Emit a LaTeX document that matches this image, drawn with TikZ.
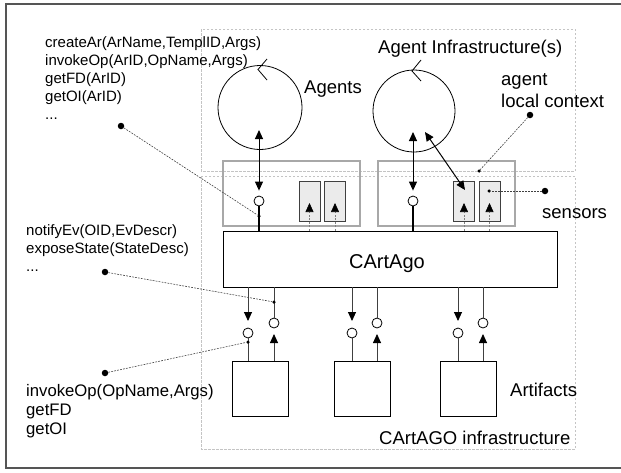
\documentclass[tikz,border=0pt]{standalone}
\usepackage{fontspec}
\setmainfont{Liberation Sans}
\usetikzlibrary{arrows.meta}
\definecolor{dgrey}{HTML}{404040}
\definecolor{lgrey}{HTML}{C4C4C4}
\definecolor{ctxgrey}{HTML}{A8A8A8}
\definecolor{sensfill}{HTML}{EBEBEB}
\definecolor{framegrey}{HTML}{555555}
\tikzset{
  tri/.tip={Triangle[width=8pt,length=9pt,color=black]},
  port/.style={circle, draw=black, fill=white, minimum size=10pt, inner sep=0pt, line width=0.8pt},
  ctxbox/.style={draw=ctxgrey, line width=1.2pt, minimum width=137pt, minimum height=65pt, inner sep=0pt},
  sensbox/.style={draw=dgrey, fill=sensfill, line width=0.9pt, minimum width=21pt, minimum height=40pt, inner sep=0pt},
  artbox/.style={draw=black, line width=0.8pt, minimum width=56pt, minimum height=55pt, inner sep=0pt},
  agentc/.style={circle, draw=black, line width=0.8pt, inner sep=0pt},
  region/.style={draw=lgrey, dash pattern=on 2.5pt off 1.5pt, line width=0.7pt},
  notel/.style={draw=dgrey, dash pattern=on 1.8pt off 1.2pt, line width=0.6pt},
  bigdot/.style={circle, fill=black, minimum size=6.5pt, inner sep=0pt},
  smalldot/.style={circle, fill=black, minimum size=3.5pt, inner sep=0pt},
  conn/.style={draw=dgrey, line width=0.9pt},
  sensline/.style={draw=gray, dash pattern=on 2pt off 1.5pt, line width=0.6pt},
  small/.style={anchor=base west, inner sep=0pt, font=\fontsize{15}{18}\selectfont},
  medium/.style={anchor=base west, inner sep=0pt, font=\fontsize{16.7}{20}\selectfont},
  lbl/.style={anchor=base west, inner sep=0pt, font=\fontsize{18.5}{22}\selectfont},
}
\begin{document}
\begin{tikzpicture}[x=1pt,y=-1pt]
\useasboundingbox (0,0) rectangle (621,472);
% outer frame
\draw[framegrey, line width=1.3pt] (625,4) -- (6,4) -- (6,468) -- (625,468);
% dashed regions
\draw[region] (201,29) rectangle (575,171);
\draw[region] (201,176) rectangle (575,449);

% context boxes
\node[ctxbox] (ctx1) at (291.5,193.5) {};
\node[ctxbox] (ctx2) at (446.5,193.5) {};
% sensor boxes
\node[sensbox] (s1) at (309.5,201) {};
\node[sensbox] (s2) at (335,201) {};
\node[sensbox] (s3) at (464,201) {};
\node[sensbox] (s4) at (489.5,201) {};

% CArtAgo
\node[draw=black, line width=0.9pt, minimum width=334pt, minimum height=56pt, inner sep=0pt] (cart) at (390,259) {};
\node[anchor=base west, inner sep=0pt, font=\fontsize{20}{24}\selectfont] (cartl) at (349,268) {CArtAgo};

% agents
\node[agentc, minimum size=84pt] (ag1) at (260,107.5) {};
\node[agentc, minimum size=82pt] (ag2) at (414,111) {};
\draw[line width=0.8pt] (267,59) -- (258,69.5) -- (267,80);
\draw[line width=0.8pt] (421,60) -- (412,71) -- (421,81);

% agent connectors
\coordinate (a1in) at (259,130);
\node[port] (pa1) at (259,201) {};
\draw[line width=1pt, {tri}-{tri}, shorten >=5pt] (a1in) -- (pa1.north);
\draw[line width=2pt] (pa1.south) -- (pa1.south |- cart.north);
\coordinate (a2in) at (413,132);
\node[port] (pa2) at (413,201) {};
\draw[line width=1pt, {tri}-{tri}, shorten >=5pt] (a2in) -- (pa2.north);
\draw[line width=2pt] (pa2.south) -- (pa2.south |- cart.north);
\coordinate (a2d) at (425,132);
\coordinate (s3t) at (465,190);
\draw[line width=1pt, {tri}-{tri}] (a2d) -- (s3t);

% sensor arrows
\foreach \s in {s1,s2,s3,s4}{
  \draw[sensline, -{tri}] (\s.center |- cart.north) -- ([yshift=-2pt]\s.center);
}

% artifacts
\node[artbox] (art1) at (260,388.5) {};
\node[artbox] (art2) at (362,388.5) {};
\node[artbox] (art3) at (468.5,388.5) {};
\foreach \i/\L/\R in {1/248/274, 2/352/377, 3/458/483}{
  \coordinate (tl\i) at (\L,321);
  \coordinate (tr\i) at (\R,334);
  \node[port] (pl\i) at (\L,333) {};
  \node[port] (pr\i) at (\R,323) {};
  \draw[conn, -{tri}] (tl\i |- cart.south) -- (tl\i);
  \draw[conn] (pl\i.south) -- (pl\i.south |- art\i.north);
  \draw[conn] (pr\i.north |- cart.south) -- (pr\i.north);
  \draw[conn, -{tri}] (tr\i |- art\i.north) -- (tr\i);
}

% annotation dots and lines
\node[bigdot] (d1) at (121,126) {};
\node[smalldot] (e1) at (259,216) {};
\draw[notel] (d1) -- (e1);
\node[bigdot] (d2) at (530,115) {};
\node[smalldot] (e2) at (479,171) {};
\draw[notel] (d2) -- (e2);
\node[bigdot] (d3) at (545,191) {};
\node[smalldot] (e3) at (489,191) {};
\draw[notel] (d3) -- (e3);
\node[bigdot] (d4) at (105,272) {};
\node[smalldot] (e4) at (274,302) {};
\draw[notel] (d4) -- (e4);
\node[bigdot] (d5) at (105,373) {};
\node[smalldot] (e5) at (248,342) {};
\draw[notel] (d5) -- (e5);

% texts
\node[small] (t1) at (45,47) {createAr(ArName,TemplID,Args)};
\node[small] (t2) at (45,65) {invokeOp(ArID,OpName,Args)};
\node[small] (t3) at (45,83) {getFD(ArID)};
\node[small] (t4) at (45,101) {getOI(ArID)};
\node[small] (t5) at (45,119) {...};
\node[small] (m1) at (26,235) {notifyEv(OID,EvDescr)};
\node[small] (m2) at (26,253) {exposeState(StateDesc)};
\node[small] (m3) at (26,271) {...};
\node[medium] (b1) at (26,396) {invokeOp(OpName,Args)};
\node[medium] (b2) at (26,415) {getFD};
\node[medium] (b3) at (26,434) {getOI};

\node[lbl] (lagents) at (304,93) {Agents};
\node[lbl] (linfra) at (378,53) {Agent Infrastructure(s)};
\node[lbl] (lctx1) at (501,85) {agent};
\node[lbl] (lctx2) at (501,107) {local context};
\node[lbl] (lsens) at (542,218) {sensors};
\node[lbl] (lart) at (510,396) {Artifacts};
\node[lbl] (lcinf) at (379,444) {CArtAGO infrastructure};
\end{tikzpicture}
\end{document}
